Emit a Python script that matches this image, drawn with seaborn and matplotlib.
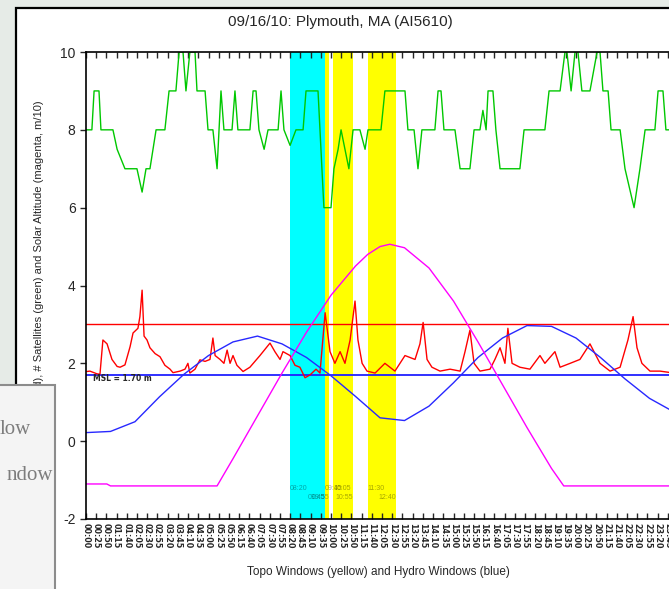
import numpy as np
import pandas as pd
import matplotlib
matplotlib.use('Agg')
import matplotlib.pyplot as plt
import seaborn as sns
from matplotlib.patches import Rectangle

# satellites (green), hours / count
sat_h = [0.00, 0.24, 0.33, 0.53, 0.61, 1.10, 1.27, 1.59, 2.08, 2.29, 2.45, 2.61, 2.86, 3.22, 3.39, 3.67,
         3.80, 3.96, 4.08, 4.24, 4.45, 4.53, 4.86, 4.98, 5.18, 5.35, 5.51, 5.63, 5.96, 6.08, 6.20, 6.69,
         6.82, 6.94, 7.06, 7.27, 7.43, 7.84, 7.96, 8.08, 8.33, 8.57, 8.86, 8.98, 9.47, 9.55, 9.63, 9.71,
         10.00, 10.12, 10.29, 10.41, 10.57, 10.73, 10.90, 11.18, 11.39, 11.51, 12.04, 12.20, 13.02, 13.14,
         13.39, 13.55, 13.71, 14.24, 14.37, 14.49, 14.61, 15.06, 15.27, 15.67, 15.84, 16.08, 16.20, 16.33,
         16.41, 16.61, 16.73, 16.90, 17.71, 17.88, 18.73, 18.90, 19.35, 19.55, 19.63, 19.80, 19.96, 20.08,
         20.24, 20.57, 20.86, 20.98, 21.10, 21.31, 21.43, 21.80, 22.00, 22.37, 22.61, 22.82, 23.22, 23.35,
         23.55, 23.67, 24.00]
sat_n = [8, 8, 9, 9, 8, 8, 7.5, 7, 7, 6.4, 7, 7, 8, 8, 9, 9,
         10, 10, 9, 10, 10, 9, 9, 8, 8, 7, 9, 8, 8, 9, 8, 8,
         9, 9, 8, 7.5, 8, 8, 9, 8, 7.6, 8, 8, 9, 9, 8, 7, 6,
         6, 7, 7.5, 8, 7.5, 7, 8, 8, 7.5, 8, 8, 9, 9, 8,
         8, 7, 8, 8, 9, 9, 8, 8, 7, 7, 8, 8, 8.5, 8,
         9, 9, 8, 7, 7, 8, 8, 9, 9, 10, 10, 9, 10, 10,
         9, 9, 10, 10, 9, 9, 8, 8, 7, 6, 7, 8, 8, 9,
         9, 8, 8]

# water level (red)
wl_h = [0.03, 0.16, 0.45, 0.57, 0.69, 0.86, 1.06, 1.27, 1.39, 1.59, 1.80, 1.92, 2.12, 2.20, 2.29, 2.37,
        2.49, 2.61, 2.82, 3.02, 3.22, 3.43, 3.55, 3.84, 4.04, 4.16, 4.24, 4.45, 4.65, 4.86, 5.06, 5.18,
        5.27, 5.47, 5.63, 5.76, 5.88, 6.00, 6.16, 6.41, 6.69, 7.10, 7.51, 7.71, 7.92, 8.04, 8.33, 8.53,
        8.73, 8.94, 9.14, 9.39, 9.55, 9.76, 9.96, 10.16, 10.37, 10.57, 10.78, 10.98, 11.10, 11.27, 11.47,
        11.80, 12.20, 12.61, 13.02, 13.43, 13.63, 13.76, 13.92, 14.12, 14.45, 14.86, 15.27, 15.47, 15.67,
        15.84, 16.08, 16.49, 16.69, 16.90, 17.10, 17.22, 17.39, 17.71, 18.12, 18.53, 18.73, 19.14, 19.35,
        19.76, 20.16, 20.57, 20.98, 21.39, 21.80, 22.12, 22.33, 22.49, 22.69, 23.02, 23.43, 24.00]
wl_m = [1.79, 1.8, 1.73, 1.72, 2.6, 2.5, 2.1, 1.92, 1.9, 1.96, 2.43, 2.78, 2.9, 3.2, 3.88, 2.7,
        2.6, 2.4, 2.25, 2.17, 1.95, 1.85, 1.76, 1.8, 1.85, 2.0, 1.75, 1.85, 2.09, 2.05, 2.1, 2.65,
        2.2, 2.1, 2.0, 2.34, 2.0, 2.2, 1.95, 1.79, 1.9, 2.2, 2.52, 2.3, 2.1, 2.3, 2.2, 1.95,
        1.9, 1.63, 1.7, 1.85, 1.75, 3.3, 2.3, 2.0, 2.3, 2.0, 2.6, 3.6, 2.6, 2.0, 1.8,
        1.75, 2.0, 1.8, 2.2, 2.1, 2.5, 3.05, 2.1, 1.9, 1.8, 1.85, 1.8, 2.3, 2.85,
        2.0, 1.8, 1.85, 2.1, 2.4, 2.0, 2.9, 2.0, 1.9, 1.85, 2.2, 2.0, 2.3, 1.9,
        2.0, 2.1, 2.5, 2.0, 1.8, 1.9, 2.6, 3.2, 2.4, 2.0, 1.8, 1.8, 1.75]

# predicted tide (blue), hourly
tide_h = list(range(0, 25))
tide_m = [0.22, 0.25, 0.5, 1.14, 1.72, 2.2, 2.55, 2.7, 2.5, 2.15, 1.68, 1.15, 0.6, 0.53, 0.9,
          1.5, 2.15, 2.65, 2.97, 2.95, 2.65, 2.15, 1.6, 1.1, 0.75]

# solar altitude (magenta, m/10)
sun_h = [0, 0.85, 1.0, 5.35, 6, 7, 8, 9, 10, 11, 11.5, 12, 12.4, 13, 14, 15, 16, 17, 18, 19, 19.5, 24]
sun_alt = [-1.1, -1.1, -1.15, -1.15, -0.45, 0.65, 1.75, 2.8, 3.75, 4.5, 4.8, 5.0, 5.06, 4.97, 4.45,
           3.6, 2.55, 1.45, 0.35, -0.7, -1.15, -1.15]

msl = 1.70
upper_limit = 3.0
hydro_windows = [('08:20', '09:45')]
topo_windows = [('09:45', '09:55'), ('10:05', '10:55'), ('11:30', '12:40')]


def hrs(t):
    hh, mm = t.split(':')
    return int(hh) + int(mm) / 60


sns.set_style('ticks')
plt.rcParams['font.family'] = ['Liberation Sans', 'DejaVu Sans']

W, H = 669, 589
fig = plt.figure(figsize=(W / 100, H / 100), dpi=100, facecolor='#e6ebe7')

# white panel behind the chart
fig.patches.append(Rectangle((16 / W, -0.1), 1.2, (H - 8) / H + 0.1, transform=fig.transFigure,
                             facecolor='white', edgecolor='black', lw=1.6, zorder=-5))

ax = fig.add_axes([86 / W, (H - 519) / H, (674 - 86) / W, 467 / H])
ax.set_facecolor('white')

for a, b in hydro_windows:
    ax.axvspan(hrs(a), hrs(b), color='#00ffff', lw=0, zorder=0)
    ax.text(hrs(a), -1.22, a, fontsize=5, color='#000000', alpha=0.35, ha='left', va='center')
    ax.text(hrs(b), -1.45, b, fontsize=5, color='#000000', alpha=0.35, ha='right', va='center')
for a, b in topo_windows:
    ax.axvspan(hrs(a), hrs(b), color='#ffff00', lw=0, zorder=0)
    ax.text(hrs(a), -1.22, a, fontsize=5, color='#000000', alpha=0.35, ha='left', va='center')
    ax.text(hrs(b), -1.45, b, fontsize=5, color='#000000', alpha=0.35, ha='right', va='center')

ax.axhline(upper_limit, color='#ff0000', lw=1)
ax.axhline(msl, color='#2020ff', lw=1.3)
ax.text(0.29, msl - 0.08, f'MSL = {msl:.2f} m', fontsize=5.5, fontweight='bold', va='center',
        family='DejaVu Sans')

sns.lineplot(x=sat_h, y=sat_n, color='#00c800', lw=1, ax=ax, sort=False, estimator=None)
sns.lineplot(x=wl_h, y=wl_m, color='#ff0000', lw=1, ax=ax, sort=False, estimator=None)
sns.lineplot(x=tide_h, y=tide_m, color='#2828ff', lw=1, ax=ax, sort=False, estimator=None)
sns.lineplot(x=sun_h, y=sun_alt, color='#ff00ff', lw=1, ax=ax, sort=False, estimator=None)

ax.set_xlim(0, 24)
ax.set_ylim(-2, 10)
ax.set_yticks(range(-2, 11, 2))
ax.set_yticklabels([str(v) for v in range(-2, 11, 2)], fontsize=10)
ticks = np.arange(0, 24 * 60, 25)
ax.set_xticks(ticks / 60)
ax.set_xticklabels([f'{m // 60:02d}:{m % 60:02d}' for m in ticks], rotation=-90, fontsize=5.8,
                   fontweight='bold', family='DejaVu Sans')
ax.tick_params(axis='x', direction='in', length=4, width=1, top=True, pad=3)
ax.tick_params(axis='y', direction='out', length=4, width=1, left=True)
ax.tick_params(axis='y', which='both', right=True)
for s in ax.spines.values():
    s.set_color('black')
    s.set_linewidth(1.2)
ax.set_xlabel('')
ax.set_ylabel('')

fig.text(340 / W, 1 - 22 / H, '09/16/10: Plymouth, MA (AI5610)', fontsize=11, ha='center', va='center')
fig.text(378 / W, 1 - 572 / H, 'Topo Windows (yellow) and Hydro Windows (blue)', fontsize=8.5,
         ha='center', va='center')
fig.text(39 / W, 1 - 100 / H,
         'Water Level (red), # Satellites (green) and Solar Altitude (magenta, m/10)',
         fontsize=8, rotation=90, ha='center', va='top')

# piece of another window lying over the lower left corner
fig.patches.append(Rectangle((-0.01, -0.01), 55 / W + 0.01, (H - 385) / H + 0.01, transform=fig.transFigure,
                             facecolor='#f4f4f4', edgecolor='#8c8c8c', lw=1.5, zorder=20))
fig.text(31 / W, 1 - 430 / H, 'low', fontsize=15, color='#7d7d7d', ha='right', va='center',
         family='Liberation Serif', zorder=21)
fig.text(53 / W, 1 - 476 / H, 'ndow', fontsize=15, color='#7d7d7d', ha='right', va='center',
         family='Liberation Serif', zorder=21)

fig.savefig('out.png', dpi=100, facecolor=fig.get_facecolor())
